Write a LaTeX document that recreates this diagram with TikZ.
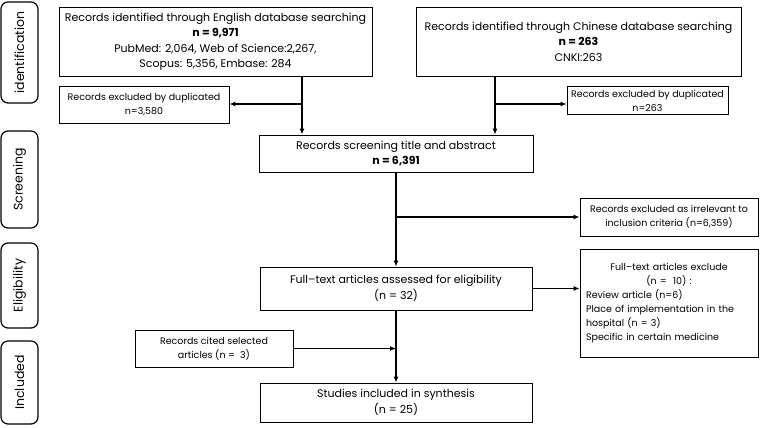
\documentclass[tikz,border=0pt]{standalone}
\usepackage{fontspec}
\setmainfont{Poppins}
\usetikzlibrary{arrows.meta}
\tikzset{
  box/.style={draw, line width=0.8pt, align=center, inner sep=2pt, font=\fontsize{11}{15.5}\selectfont},
  sidebox/.style={box, font=\fontsize{9.5}{14}\selectfont},
  phase/.style={draw, line width=1.2pt, rounded corners=7pt, minimum height=37pt, inner sep=2pt, rotate=90, font=\fontsize{12.5}{15}\selectfont},
  arr/.style={line width=1.4pt, -{Latex[length=6pt,width=5pt]}},
}
\begin{document}
\begin{tikzpicture}[x=1pt,y=-1pt]
    \useasboundingbox (0,0) rectangle (764,428);
    % phases
    \node [phase, minimum width=101pt] (idf) at (19.5,52.5) {identification};
    \node [phase, minimum width=97pt] (scrn) at (19.5,179.5) {Screening};
    \node [phase, minimum width=85pt] (elig) at (19.5,285.5) {Eligibility};
    \node [phase, minimum width=83pt] (incl) at (19.5,382.5) {Included};
    % boxes
    \node [box, minimum width=313pt, minimum height=69pt] (eng) at (215.5,41.5) {Records identified through English database searching\\ \textbf{n = 9,971}\\ PubMed: 2,064, Web of Science:2,267,\\ Scopus: 5,356, Embase: 284};
    \node [box, minimum width=325pt, minimum height=69pt] (chn) at (578.5,41.5) {Records identified through Chinese database searching\\ \textbf{n = 263}\\ CNKI:263};
    \node [sidebox, minimum width=170pt, minimum height=37pt] (dup1) at (144,104.5) {Records excluded by duplicated\\ n=3,580};
    \node [sidebox, minimum width=161pt, minimum height=28pt] (dup2) at (647.5,100.5) {Records excluded by duplicated\\ n=263};
    \node [box, minimum width=274pt, minimum height=37pt] (scr) at (396,153.5) {Records screening title and abstract\\ \textbf{n = 6,391}};
    \node [sidebox, minimum width=178pt, minimum height=38pt] (irr) at (669,217) {Records excluded as irrelevant to\\ inclusion criteria (n=6,359)};
    \node [box, minimum width=272pt, minimum height=43pt] (ft) at (396,288.5) {Full--text articles assessed for eligibility\\ (n = 32)};
    \node [sidebox, minimum width=178pt, minimum height=108pt, text width=166pt, align=left, inner sep=6pt] (exc) at (669,303) {\makebox[166pt][c]{Full--text articles exclude}\\ \makebox[166pt][c]{(n = \ 10) :}\\ Review article (n=6)\\ Place of implementation in the\\ hospital (n = 3)\\ Specific in certain medicine};
    \node [sidebox, minimum width=158pt, minimum height=37pt] (cit) at (214,348.5) {Records cited selected\\ articles (n = \ 3)};
    \node [box, minimum width=272pt, minimum height=39pt] (stud) at (396,402.5) {Studies included in synthesis\\ (n = 25)};
    % junctions
    \coordinate (j1) at (302,104);
    \coordinate (j2) at (495,104);
    \coordinate (j3) at (396,217);
    % connectors
    \draw [arr] (j1 |- eng.south) -- (j1 |- scr.north);
    \draw [arr] (j1) -- (j1 -| dup1.east);
    \draw [arr] (j2 |- chn.south) -- (j2 |- scr.north);
    \draw [arr] (j2) -- (j2 -| dup2.west);
    \draw [arr] (scr.south) -- (ft.north);
    \draw [arr] (j3) -- (irr.west);
    \draw [arr] (ft.east) -- (ft.east -| exc.west);
    \draw [arr] (ft.south) -- (stud.north);
    \draw [arr] (cit.east) -- (cit.east -| ft.south);
\end{tikzpicture}
\end{document}
